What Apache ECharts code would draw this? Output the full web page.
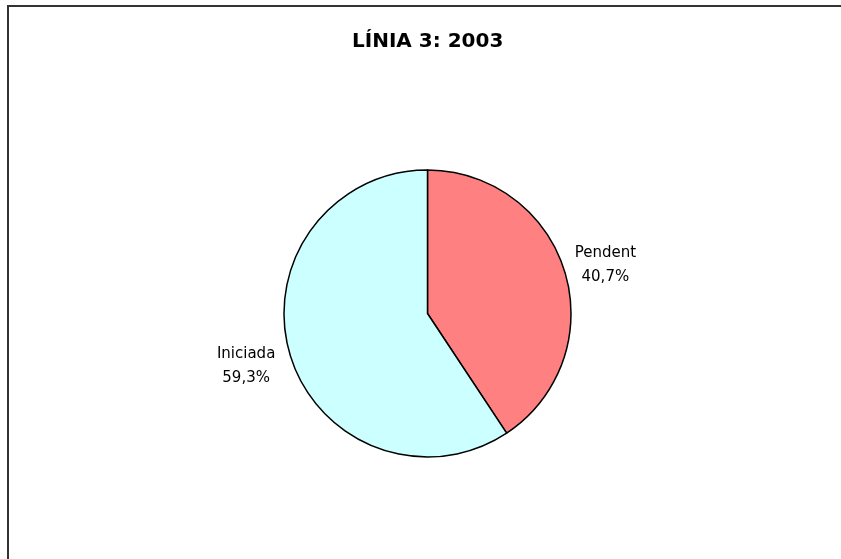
<!DOCTYPE html>
<html>
<head>
<meta charset="utf-8">
<script src="https://cdn.jsdelivr.net/npm/echarts@6/dist/echarts.min.js"></script>
<style>html,body{margin:0;padding:0;background:#fff}#c{width:841px;height:559px}</style>
</head>
<body>
<div id="c"></div>
<script>
const title = 'LÍNIA 3: 2003';
const categories = ['Pendent', 'Iniciada'];
const values = [40.7, 59.3];
const colors = ['#FF8080', '#CCFFFF'];

const chart = echarts.init(document.getElementById('c'), null, {renderer: 'canvas'});
chart.setOption({
  backgroundColor: '#ffffff',
  animation: false,
  title: {
    text: title,
    left: 347,
    top: 27,
    textStyle: {fontFamily: 'DejaVu Sans', fontWeight: 'bold', fontSize: 20, color: '#000'}
  },
  graphic: [{
    type: 'polyline',
    shape: {points: [[8, 559], [8, 6], [841, 6]]},
    style: {stroke: '#333', lineWidth: 2, fill: null}
  }],
  series: [{
    type: 'pie',
    center: [427.5, 313.5],
    radius: 143.5,
    startAngle: 90,
    clockwise: true,
    data: categories.map((c, i) => ({name: c, value: values[i], itemStyle: {color: colors[i]}})),
    itemStyle: {borderColor: '#000', borderWidth: 1.5},
    label: {
      show: true,
      position: 'outside',
      formatter: p => p.name + '\n' + p.value.toFixed(1).replace('.', ',') + '%',
      fontFamily: 'DejaVu Sans',
      fontSize: 15,
      lineHeight: 24,
      color: '#000'
    },
    labelLine: {show: false, length: 6, length2: 4},
    labelLayout: function (params) {
      const r = params.labelRect;
      const right = r.x + r.width / 2 > 427.5;
      return {
        x: r.x + r.width / 2 + (right ? -5 : 0),
        y: r.y + r.height / 2 + (right ? -5 : 10),
        align: 'center', verticalAlign: 'middle'
      };
    },
    emphasis: {disabled: true}
  }]
});
</script>
</body>
</html>
